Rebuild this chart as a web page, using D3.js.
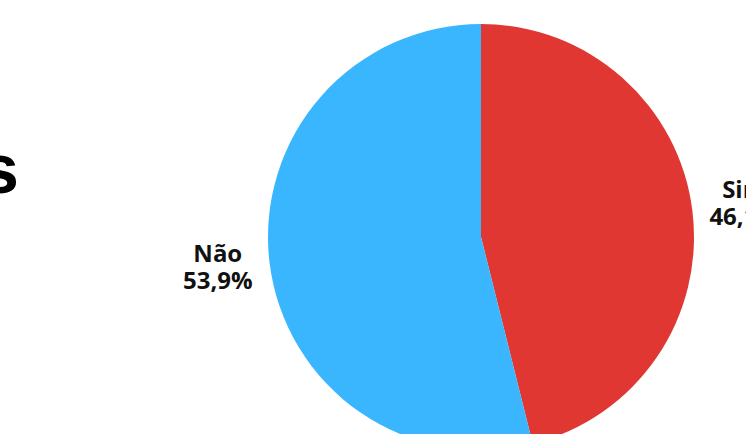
<!DOCTYPE html>
<html>
<head>
<meta charset="utf-8">
<script src="https://cdn.jsdelivr.net/npm/d3@7"></script>
<style>
  body { margin: 0; background: #fff; }
  svg { display: block; }
</style>
</head>
<body>
<div id="root"></div>
<script>
const categories = ["Sim", "Não"];
const values = [46.1, 53.9];
const colors = ["#E03733", "#3AB6FF"];
const title = "Respostas";

const width = 746, height = 434;
const cx = 481, cy = 237, radius = 213;

const svg = d3.select("#root")
	.append("svg")
		.attr("width", width)
		.attr("height", height);

// title, mostly cut off at the left edge
svg.append("text")
	.attr("x", 19)
	.attr("y", 193)
	.attr("text-anchor", "end")
	.style("font-family", "Liberation Sans, Arial, sans-serif")
	.style("font-weight", "bold")
	.style("font-size", "70px")
	.text(title);

const data = categories.map((c, i) => ({ name: c, value: values[i], color: colors[i] }));

const pie = d3.pie().sort(null).value(d => d.value);
const arcs = pie(data);

const arc = d3.arc().innerRadius(0).outerRadius(radius);
const labelArc = d3.arc().innerRadius(radius * 1.245).outerRadius(radius * 1.245);

const g = svg.append("g")
	.attr("transform", `translate(${cx}, ${cy})`);

g.selectAll(".slice")
	.data(arcs)
	.enter()
	.append("path")
		.attr("class", "slice")
		.attr("d", arc)
		.style("fill", d => d.data.color);

const fmt = v => v.toFixed(1).replace(".", ",") + "%";

const labels = g.selectAll(".label")
	.data(arcs)
	.enter()
	.append("text")
		.attr("class", "label")
		.attr("transform", d => `translate(${labelArc.centroid(d)})`)
		.attr("text-anchor", "middle")
		.style("font-family", "Open Sans, sans-serif")
		.style("font-weight", "bold")
		.style("font-size", "24px")
		.style("fill", "#111");

labels.append("tspan")
	.attr("x", 0)
	.attr("y", -7)
	.text(d => d.data.name);

labels.append("tspan")
	.attr("x", 0)
	.attr("y", 20)
	.text(d => fmt(d.data.value));
</script>
</body>
</html>
